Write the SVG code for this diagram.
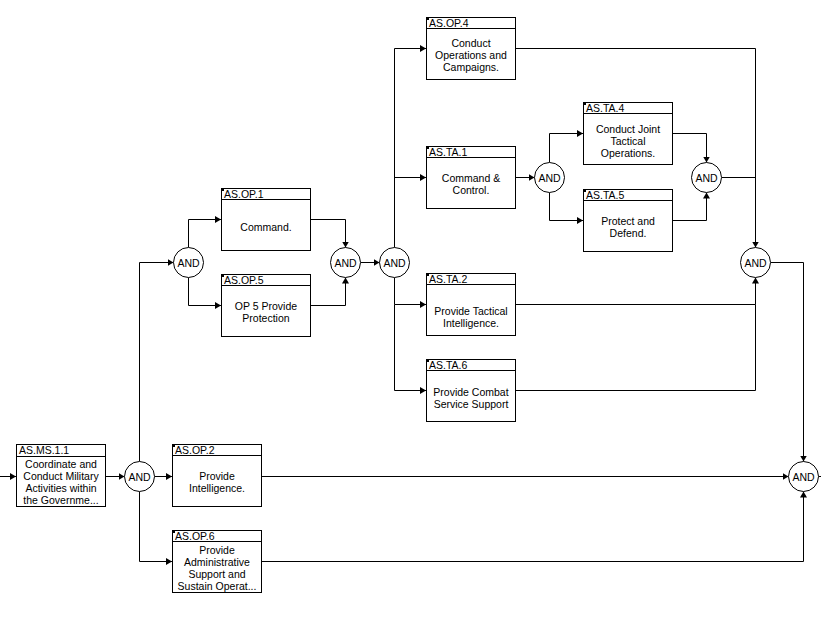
<svg xmlns="http://www.w3.org/2000/svg" width="821" height="624" viewBox="0 0 821 624">
<style>
.box{fill:#fff;stroke:#000;stroke-width:1}
.hdr{stroke:#000;stroke-width:1}
.corner{fill:#000}
.gate{fill:#fff;stroke:#000;stroke-width:1}
.conn{fill:none;stroke:#000;stroke-width:1}
.arr{marker-end:url(#ah)}
text{font-family:"Liberation Sans",Arial,sans-serif;font-size:10.5px;fill:#000}
.t{text-anchor:middle}
.g{text-anchor:middle}
</style>
<defs>
<marker id="ah" viewBox="0 0 6 7" refX="6" refY="3.5" markerWidth="6" markerHeight="7" orient="auto" markerUnits="userSpaceOnUse">
<path d="M0,0 L6,3.5 L0,7 z" fill="#000"/>
</marker>
</defs>
<rect width="821" height="624" fill="#fff"/>

<g id="connectors">
<path class="conn arr" d="M0,476.5 H16"/>
<path class="conn arr" d="M106,476.5 H124.5"/>
<path class="conn arr" d="M139.5,461.5 V262.5 H173.5"/>
<path class="conn arr" d="M154.5,476.5 H172"/>
<path class="conn arr" d="M139.5,491.5 V561.5 H172"/>
<path class="conn arr" d="M188.5,247.5 V219.5 H221"/>
<path class="conn arr" d="M188.5,277.5 V305.5 H221"/>
<path class="conn arr" d="M310,219.5 H345.5 V247.5"/>
<path class="conn arr" d="M310,305.5 H345.5 V277.5"/>
<path class="conn arr" d="M360.5,262.5 H379.5"/>
<path class="conn arr" d="M394.5,247.5 V48.5 H426"/>
<path class="conn arr" d="M394.5,177.5 H426"/>
<path class="conn arr" d="M394.5,277.5 V304.5 H426"/>
<path class="conn arr" d="M394.5,304.5 V390.5 H426"/>
<path class="conn arr" d="M515,177.5 H534.5"/>
<path class="conn arr" d="M549.5,162.5 V133.5 H583"/>
<path class="conn arr" d="M549.5,192.5 V220.5 H583"/>
<path class="conn arr" d="M673,133.5 H706.5 V162.5"/>
<path class="conn arr" d="M673,220.5 H706.5 V192.5"/>
<path class="conn" d="M721.5,177.5 H755.5"/>
<path class="conn arr" d="M515,48.5 H755.5 V247.5"/>
<path class="conn arr" d="M515,304.5 H755.5 V277.5"/>
<path class="conn" d="M515,390.5 H755.5 V304.5"/>
<path class="conn arr" d="M770.5,262.5 H803.5 V461.5"/>
<path class="conn arr" d="M261,476.5 H788.5"/>
<path class="conn arr" d="M261,561.5 H803.5 V491.5"/>
<path class="conn" d="M818.5,476.5 H821"/>
</g>

<g id="AS.MS.1.1">
<rect class="box" x="16.5" y="444.5" width="89" height="62"/>
<line class="hdr" x1="16.5" y1="456.5" x2="105.5" y2="456.5"/>
<text x="19" y="454">AS.MS.1.1</text>
<text class="t" x="61" y="468">Coordinate and</text>
<text class="t" x="61" y="480">Conduct Military</text>
<text class="t" x="61" y="492">Activities within</text>
<text class="t" x="61" y="504">the Governme...</text>
</g>

<g id="AS.OP.2">
<rect class="box" x="172.5" y="444.5" width="89" height="62"/>
<line class="hdr" x1="172.5" y1="455.5" x2="261.5" y2="455.5"/>
<rect class="corner" x="172" y="444" width="3" height="3"/>
<text x="175" y="454">AS.OP.2</text>
<text class="t" x="217" y="480">Provide</text>
<text class="t" x="217" y="492">Intelligence.</text>
</g>

<g id="AS.OP.6">
<rect class="box" x="172.5" y="530.5" width="89" height="62"/>
<line class="hdr" x1="172.5" y1="541.5" x2="261.5" y2="541.5"/>
<rect class="corner" x="172" y="530" width="3" height="3"/>
<text x="175" y="540">AS.OP.6</text>
<text class="t" x="217" y="554">Provide</text>
<text class="t" x="217" y="566">Administrative</text>
<text class="t" x="217" y="578">Support and</text>
<text class="t" x="217" y="590">Sustain Operat...</text>
</g>

<g id="AS.OP.1">
<rect class="box" x="221.5" y="188.5" width="89" height="62"/>
<line class="hdr" x1="221.5" y1="199.5" x2="310.5" y2="199.5"/>
<rect class="corner" x="221" y="188" width="3" height="3"/>
<text x="224" y="198">AS.OP.1</text>
<text class="t" x="266" y="231">Command.</text>
</g>

<g id="AS.OP.5">
<rect class="box" x="221.5" y="274.5" width="89" height="62"/>
<line class="hdr" x1="221.5" y1="285.5" x2="310.5" y2="285.5"/>
<rect class="corner" x="221" y="274" width="3" height="3"/>
<text x="224" y="284">AS.OP.5</text>
<text class="t" x="266" y="310">OP 5 Provide</text>
<text class="t" x="266" y="322">Protection</text>
</g>

<g id="AS.OP.4">
<rect class="box" x="426.5" y="17.5" width="89" height="62"/>
<line class="hdr" x1="426.5" y1="28.5" x2="515.5" y2="28.5"/>
<rect class="corner" x="426" y="17" width="3" height="3"/>
<text x="429" y="27">AS.OP.4</text>
<text class="t" x="471" y="47">Conduct</text>
<text class="t" x="471" y="59">Operations and</text>
<text class="t" x="471" y="71">Campaigns.</text>
</g>

<g id="AS.TA.1">
<rect class="box" x="426.5" y="146.5" width="89" height="62"/>
<line class="hdr" x1="426.5" y1="157.5" x2="515.5" y2="157.5"/>
<rect class="corner" x="426" y="146" width="3" height="3"/>
<text x="429" y="156">AS.TA.1</text>
<text class="t" x="471" y="182">Command &amp;</text>
<text class="t" x="471" y="194">Control.</text>
</g>

<g id="AS.TA.2">
<rect class="box" x="426.5" y="273.5" width="89" height="62"/>
<line class="hdr" x1="426.5" y1="284.5" x2="515.5" y2="284.5"/>
<rect class="corner" x="426" y="273" width="3" height="3"/>
<text x="429" y="283">AS.TA.2</text>
<text class="t" x="471" y="315">Provide Tactical</text>
<text class="t" x="471" y="327">Intelligence.</text>
</g>

<g id="AS.TA.6">
<rect class="box" x="426.5" y="359.5" width="89" height="62"/>
<line class="hdr" x1="426.5" y1="370.5" x2="515.5" y2="370.5"/>
<rect class="corner" x="426" y="359" width="3" height="3"/>
<text x="429" y="369">AS.TA.6</text>
<text class="t" x="471" y="396">Provide Combat</text>
<text class="t" x="471" y="408">Service Support</text>
</g>

<g id="AS.TA.4">
<rect class="box" x="583.5" y="102.5" width="89" height="62"/>
<line class="hdr" x1="583.5" y1="113.5" x2="672.5" y2="113.5"/>
<rect class="corner" x="583" y="102" width="3" height="3"/>
<text x="586" y="112">AS.TA.4</text>
<text class="t" x="628" y="133">Conduct Joint</text>
<text class="t" x="628" y="145">Tactical</text>
<text class="t" x="628" y="157">Operations.</text>
</g>

<g id="AS.TA.5">
<rect class="box" x="583.5" y="189.5" width="89" height="62"/>
<line class="hdr" x1="583.5" y1="200.5" x2="672.5" y2="200.5"/>
<rect class="corner" x="583" y="189" width="3" height="3"/>
<text x="586" y="199">AS.TA.5</text>
<text class="t" x="628" y="225">Protect and</text>
<text class="t" x="628" y="237">Defend.</text>
</g>

<g id="AND1"><circle class="gate" cx="139.5" cy="476.5" r="15"/><text class="g" x="139.5" y="480.5">AND</text></g>
<g id="AND2"><circle class="gate" cx="188.5" cy="262.5" r="15"/><text class="g" x="188.5" y="266.5">AND</text></g>
<g id="AND3"><circle class="gate" cx="345.5" cy="262.5" r="15"/><text class="g" x="345.5" y="266.5">AND</text></g>
<g id="AND4"><circle class="gate" cx="394.5" cy="262.5" r="15"/><text class="g" x="394.5" y="266.5">AND</text></g>
<g id="AND5"><circle class="gate" cx="549.5" cy="177.5" r="15"/><text class="g" x="549.5" y="181.5">AND</text></g>
<g id="AND6"><circle class="gate" cx="706.5" cy="177.5" r="15"/><text class="g" x="706.5" y="181.5">AND</text></g>
<g id="AND7"><circle class="gate" cx="755.5" cy="262.5" r="15"/><text class="g" x="755.5" y="266.5">AND</text></g>
<g id="AND8"><circle class="gate" cx="803.5" cy="476.5" r="15"/><text class="g" x="803.5" y="480.5">AND</text></g>
</svg>
